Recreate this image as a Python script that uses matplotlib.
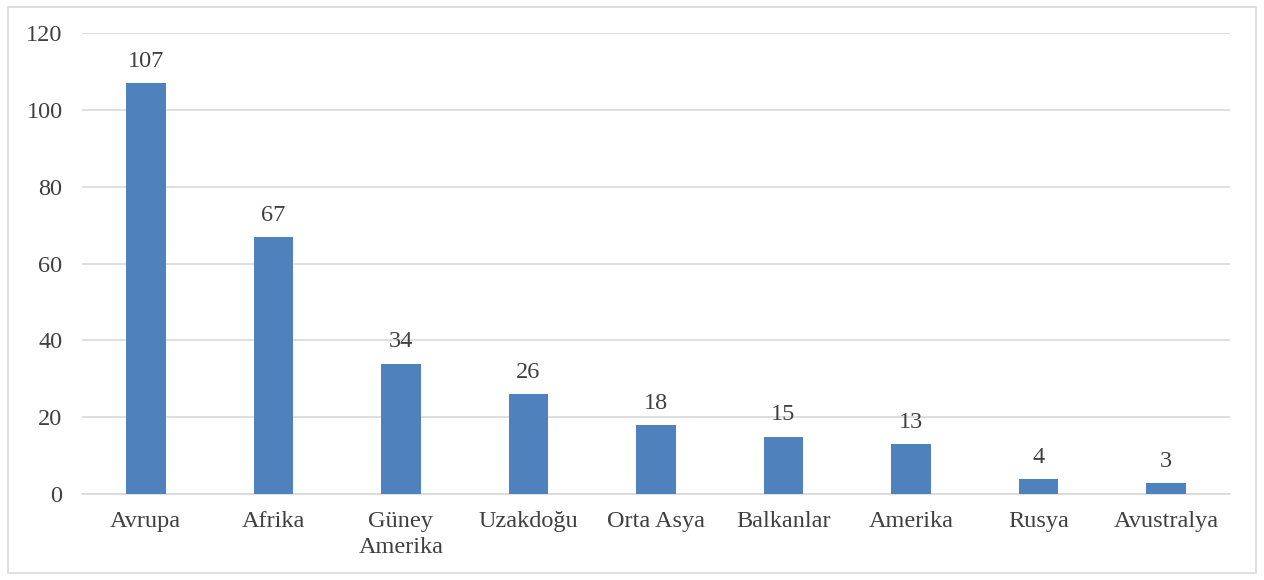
import matplotlib.pyplot as plt
from matplotlib.patches import Rectangle

regions = ['Avrupa', 'Afrika', 'Güney\nAmerika', 'Uzakdoğu', 'Orta Asya',
           'Balkanlar', 'Amerika', 'Rusya', 'Avustralya']
counts = [107, 67, 34, 26, 18, 15, 13, 4, 3]
yticks = [0, 20, 40, 60, 80, 100, 120]

plt.rcParams['font.family'] = ['Liberation Serif', 'DejaVu Serif']
text_color = '#404040'
fs = 17.5

fig = plt.figure(figsize=(12.64, 5.8), dpi=100)
ax = fig.add_axes([0.0649, 0.148, 0.908, 0.795])

x = list(range(len(regions)))
bars = ax.bar(x, counts, width=0.31, color='#4F81BD', zorder=3)

for xi, v in zip(x, counts):
    ax.annotate(str(v), (xi, v), xytext=(0, 8), textcoords='offset points',
                ha='center', va='bottom', fontsize=fs, color=text_color)

ax.set_xlim(-0.5, len(regions) - 0.5)
ax.set_ylim(0, 120)
ax.set_yticks(yticks)
ax.set_xticks(x)
ax.set_xticklabels(regions, fontsize=fs, color=text_color, linespacing=1.3)
ax.tick_params(axis='y', labelsize=fs, labelcolor=text_color, length=0, pad=14)
ax.tick_params(axis='x', length=0, pad=12)
ax.grid(axis='y', color='#D9D9D9', linewidth=1.2, zorder=0)
for s in ['top', 'right', 'left']:
    ax.spines[s].set_visible(False)
ax.spines['bottom'].set_color('#D9D9D9')
ax.spines['bottom'].set_linewidth(1.2)

# outer frame
fig.patches.append(Rectangle((0.006, 0.012), 0.988, 0.976, transform=fig.transFigure,
                             fill=False, edgecolor='#D9D9D9', linewidth=1.2))

fig.savefig('out.png', dpi=100)
